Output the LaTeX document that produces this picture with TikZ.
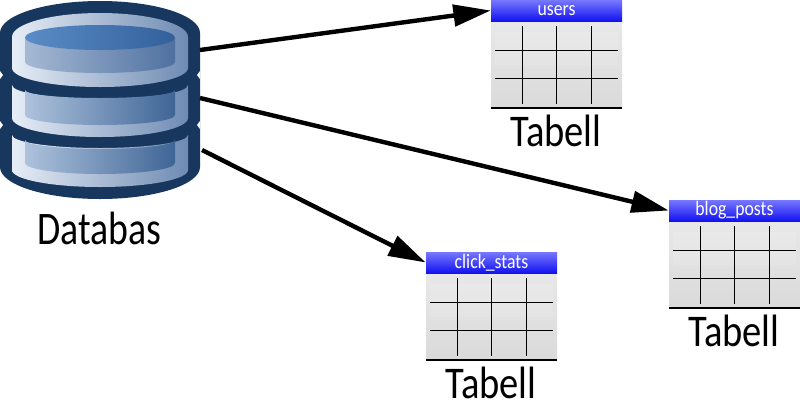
\documentclass[tikz,border=0pt]{standalone}
\usepackage{fontspec}
\setmainfont{Carlito}
\usetikzlibrary{arrows.meta}
\definecolor{dbdark}{HTML}{17375E}
\definecolor{outerl}{HTML}{E6EDF6}
\definecolor{outerr}{HTML}{6F8BB3}
\definecolor{innerl}{HTML}{AEC2DC}
\definecolor{innerr}{HTML}{3E6596}
\definecolor{innertl}{HTML}{A5B9D4}
\definecolor{innertr}{HTML}{4F71A0}
\definecolor{discl}{HTML}{5A8CC6}
\definecolor{discr}{HTML}{33609A}
\definecolor{tablelight}{HTML}{E8E8EA}
\definecolor{tabledark}{HTML}{DADADA}
\definecolor{headlight}{HTML}{7878FF}
\definecolor{headdark}{HTML}{1212F0}
\newcommand\ellarc[4]{.. controls ({#1},{#3+.552*(#4)}) and ({(#1+#2)/2-.276*(#2-#1)},{#3+(#4)}) .. ({(#1+#2)/2},{#3+(#4)}) .. controls ({(#1+#2)/2+.276*(#2-#1)},{#3+(#4)}) and ({#2},{#3+.552*(#4)}) .. ({#2},{#3})}
\newcommand\dbtable[4]{%
  \begin{scope}[shift={(#2,#3)}]
    \node[tablebody] (#1body) at (65.5,64.5) {};
    \fill[bodyband] (4,32) rectangle (127,65);
    \node[tablehead] (#1) at (65.5,10.5) {\scalebox{.95}[1.1]{#4}};
    \draw[gridline] (31.3,26) -- (31.3,104) (65.5,26) -- (65.5,104) (100.3,26) -- (100.3,104);
    \draw[gridline] (4,50.5) -- (127,50.5) (4,78.5) -- (127,78.5);
    \draw[gridline] (0,108) -- (131,108);
    \node[biglabel] (#1label) at (65,131) {Tabell};
  \end{scope}}
\tikzset{
  tablebody/.style={minimum width=98.25pt,minimum height=65.25pt,inner sep=0pt,top color=tablelight,bottom color=tabledark},
  bodyband/.style={fill=white,fill opacity=.12},
  tablehead/.style={minimum width=98.25pt,minimum height=15.75pt,inner sep=0pt,top color=headlight,bottom color=headdark,text=white,font=\fontsize{14}{14}\selectfont},
  gridline/.style={draw=black,line width=.85pt},
  biglabel/.style={font=\fontsize{34}{34}\selectfont,text=black,inner sep=0pt,xscale=.85},
  dblabelstyle/.style={font=\fontsize{35}{35}\selectfont,text=black,inner sep=0pt,xscale=.81},
  conn/.style={draw=black,line width=3.3pt,-{Triangle[length=28pt,width=16pt]}},
  ringshade/.style={left color=outerl,right color=outerr},
  panelshade/.style={left color=innerl,right color=innerr},
  toppanel/.style={left color=innertl,right color=innertr},
  discshade/.style={left color=discl,right color=discr},
}
\begin{document}
\begin{tikzpicture}[x=.75pt,y=-.75pt]
\useasboundingbox (0,0) rectangle (800,401);
% database silhouette
\fill[dbdark] (0,33) \ellarc{0}{200}{33}{-32} -- (200,167) \ellarc{200}{0}{167}{32} -- cycle;
\fill[white] (0,71) -- (3,75) -- (0,79) -- cycle (200,71) -- (197,75) -- (200,79) -- cycle
             (0,121) -- (3,125) -- (0,129) -- cycle (200,121) -- (197,125) -- (200,129) -- cycle;
% third layer
\shade[ringshade] (12,135) \ellarc{12}{188}{135}{13} -- (188,170) \ellarc{188}{12}{170}{17} -- cycle;
\shade[panelshade] (25,140) \ellarc{25}{175}{140}{9} -- (175,163) \ellarc{175}{25}{163}{11} -- cycle;
% second layer
\shade[ringshade] (12,85) \ellarc{12}{188}{85}{14} -- (188,118) \ellarc{188}{12}{118}{19} -- cycle;
\shade[panelshade] (25,90) \ellarc{25}{175}{90}{8} -- (175,115) \ellarc{175}{25}{115}{10} -- cycle;
% top layer
\shade[ringshade] (12,37) \ellarc{12}{188}{37}{-24} -- (188,68) \ellarc{188}{12}{68}{19} -- cycle;
\shade[toppanel] (25,37) -- (175,37) -- (175,62) \ellarc{175}{25}{62}{11} -- cycle;
\shade[discshade] (25,37.5) \ellarc{25}{175}{37.5}{-12.5} \ellarc{175}{25}{37.5}{12.5} -- cycle;
\node[dblabelstyle] (dblabel) at (99.5,228) {Databas};
\coordinate (db1) at (200,50);
\coordinate (db2) at (200,98);
\coordinate (db3) at (202,150);
\dbtable{users}{491}{0}{users}
\dbtable{blogposts}{669}{200}{blog\_posts}
\dbtable{clickstats}{426}{252}{click\_stats}
\draw[conn] (db1) -- (users.west);
\draw[conn] (db2) -- (blogposts.west);
\draw[conn] (db3) -- (clickstats.west);
\end{tikzpicture}
\end{document}
